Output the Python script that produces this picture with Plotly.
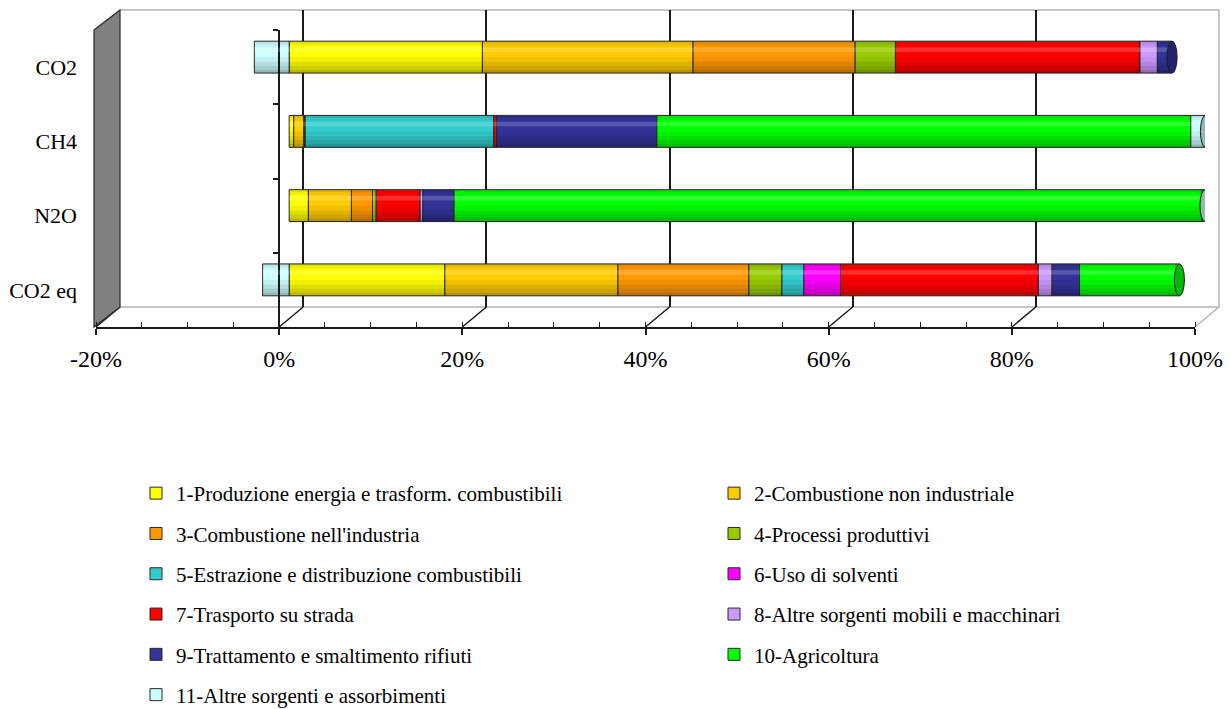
import plotly.graph_objects as go

# ---- data -------------------------------------------------------------
categories = ["CO2", "CH4", "N2O", "CO2 eq"]

sectors = [
    "1-Produzione energia e trasform. combustibili",
    "2-Combustione non industriale",
    "3-Combustione nell'industria",
    "4-Processi produttivi",
    "5-Estrazione e distribuzione combustibili",
    "6-Uso di solventi",
    "7-Trasporto su strada",
    "8-Altre sorgenti mobili e macchinari",
    "9-Trattamento e smaltimento rifiuti",
    "10-Agricoltura",
    "11-Altre sorgenti e assorbimenti",
]

# share (%) of each sector, in the order CO2, CH4, N2O, CO2 eq
s01 = [21.1, 0.5, 2.1, 17.0]
s02 = [23.0, 1.1, 4.7, 18.9]
s03 = [17.7, 0.1, 2.3, 14.3]
s04 = [4.4, 0.05, 0.4, 3.6]
s05 = [None, 20.6, None, 2.4]
s06 = [None, None, None, 4.0]
s07 = [26.7, 0.3, 4.8, 21.6]
s08 = [1.9, None, 0.3, 1.5]
s09 = [1.6, 17.5, 3.4, 3.0]
s10 = [None, 58.3, 81.7, 10.9]
s11 = [-3.8, 1.6, 0.3, -2.9]
shares = [s01, s02, s03, s04, s05, s06, s07, s08, s09, s10, s11]

colors = ["#FFFF00", "#FFCC00", "#FF9900", "#99CC00", "#33CCCC", "#FF00FF",
          "#FF0000", "#CC99FF", "#333399", "#00FF00", "#CCFFFF"]

tick_vals = [-20, 0, 20, 40, 60, 80, 100]
tick_text = [f"{v}%" for v in tick_vals]

# ---- geometry of the pseudo-3D box (pixels of a 1230x709 page) ----------
W, H = 1230, 709
FRONT_L, FRONT_R, FRONT_TOP, FRONT_BOT = 96, 1195, 30, 327   # front plane
DX, DY = 24, 20                                               # depth offset
MID_DX, MID_DY = 10, 10                                       # bars plane
BAR_W = 0.43


def px(x):
    return x / W


def py(y):
    return 1 - y / H


def shade(hex_color, k):
    r, g, b = (int(hex_color[i:i + 2], 16) for i in (1, 3, 5))
    return f"rgb({int(r * k)},{int(g * k)},{int(b * k)})"


FONT = "Liberation Serif"
fig = go.Figure()

# back wall (gridlines only) -> subplot x/y, drawn first
fig.add_trace(go.Scatter(x=[0], y=[0], mode="markers", opacity=0,
                         showlegend=False, hoverinfo="skip",
                         xaxis="x", yaxis="y"))

# the stacked cylinders -> subplot x2/y2
for idx, (name, vals, col) in enumerate(zip(sectors, shares, colors)):
    fig.add_trace(go.Bar(
        y=categories, x=vals, name=name, orientation="h",
        marker=dict(color=col, line=dict(color="#2a2a2a", width=1)),
        width=BAR_W, xaxis="x2", yaxis="y2",
        legend="legend" if idx % 2 == 0 else "legend2",
        legendgroup=name,
        hovertemplate="%{y}: %{x}%<extra>" + name + "</extra>",
    ))

# front axes (labels, ticks) -> subplot x3/y3
fig.add_trace(go.Scatter(x=[0] * len(categories), y=categories, mode="markers",
                         opacity=0, showlegend=False, hoverinfo="skip",
                         xaxis="x3", yaxis="y3"))

# cylinder shading: translucent bands along the full length of each bar
n_cat = len(categories)
neg_total = [sum(v[i] for v in shares if v[i] is not None and v[i] < 0)
             for i in range(n_cat)]
pos_total = [sum(v[i] for v in shares if v[i] is not None and v[i] > 0)
             for i in range(n_cat)]
span_len = [p - n for p, n in zip(pos_total, neg_total)]
half = BAR_W / 2
for frac, alpha in [(0.50, 0.06), (0.35, 0.07), (0.22, 0.08), (0.10, 0.10)]:
    w = BAR_W * frac
    fig.add_trace(go.Bar(
        y=categories, x=span_len, base=neg_total, orientation="h",
        width=w, offset=half - w, marker=dict(color=f"rgba(0,0,0,{alpha})",
                                               line=dict(width=0)),
        showlegend=False, hoverinfo="skip", xaxis="x4", yaxis="y4"))
for frac, alpha in [(0.16, 0.05), (0.07, 0.07)]:
    w = BAR_W * frac
    fig.add_trace(go.Bar(
        y=categories, x=span_len, base=neg_total, orientation="h",
        width=w, offset=-half, marker=dict(color=f"rgba(0,0,0,{alpha})",
                                           line=dict(width=0)),
        showlegend=False, hoverinfo="skip", xaxis="x4", yaxis="y4"))
fig.add_trace(go.Bar(
    y=categories, x=span_len, base=neg_total, orientation="h",
    width=BAR_W * 0.14, offset=-half + BAR_W * 0.2,
    marker=dict(color="rgba(255,255,255,0.18)", line=dict(width=0)),
    showlegend=False, hoverinfo="skip", xaxis="x4", yaxis="y4"))

# ---- frame shapes -------------------------------------------------------
shapes = []
BACK_L, BACK_R = FRONT_L + DX, FRONT_R + DX
BACK_TOP, BACK_BOT = FRONT_TOP - DY, FRONT_BOT - DY
shapes.append(dict(type="path", xref="paper", yref="paper",
                   path=f"M {px(BACK_L)} {py(BACK_TOP)} L {px(BACK_R)} {py(BACK_TOP)} "
                        f"L {px(BACK_R)} {py(BACK_BOT)} L {px(BACK_L)} {py(BACK_BOT)}",
                   line=dict(color="#B4B4B4", width=1.5), layer="below"))
span = FRONT_R - FRONT_L
for v in tick_vals:
    xf = FRONT_L + (v + 20) / 120 * span
    col = "#B4B4B4" if v == 100 else "#1a1a1a"
    shapes.append(dict(type="line", xref="paper", yref="paper",
                       x0=px(xf), y0=py(FRONT_BOT), x1=px(xf + DX), y1=py(BACK_BOT),
                       line=dict(color=col, width=1.5), layer="below"))
shapes.append(dict(type="path", xref="paper", yref="paper",
                   path=f"M {px(FRONT_L - 2)} {py(FRONT_TOP)} L {px(BACK_L)} {py(BACK_TOP)} "
                        f"L {px(BACK_L)} {py(BACK_BOT)} L {px(FRONT_L - 2)} {py(FRONT_BOT)} Z",
                   fillcolor="#808080", line=dict(color="#2a2a2a", width=1.2),
                   layer="below"))

# elliptical end caps of the cylinders (right-hand ends)
for i in range(n_cat):
    last = max(k for k, v in enumerate(shares) if v[i] is not None and v[i] > 0)
    shapes.append(dict(type="circle", xref="x2", yref="y2",
                       x0=pos_total[i] - 0.55, x1=pos_total[i] + 0.55,
                       y0=i - half, y1=i + half,
                       fillcolor=shade(colors[last], 0.72),
                       line=dict(color="#1a1a1a", width=1), layer="above"))

axis_common = dict(zeroline=False, showgrid=False, showticklabels=False,
                   ticks="", showline=False, fixedrange=True, automargin=False)

bar_x = dict(axis_common, range=[-20, 100],
             domain=[px(FRONT_L + MID_DX), px(FRONT_R + MID_DX)])
bar_y = dict(axis_common, type="category", categoryarray=categories,
             range=[3.5, -0.5],
             domain=[py(FRONT_BOT - MID_DY), py(FRONT_TOP - MID_DY)])

legend_common = dict(xanchor="left", yanchor="top", orientation="v",
                     tracegroupgap=10, bgcolor="rgba(0,0,0,0)",
                     font=dict(family=FONT, size=21), traceorder="grouped",
                     itemclick=False, itemdoubleclick=False)

fig.update_layout(
    width=W, height=H,
    margin=dict(l=0, r=0, t=0, b=0, autoexpand=False),
    paper_bgcolor="white", plot_bgcolor="rgba(0,0,0,0)",
    barmode="relative",
    shapes=shapes,
    font=dict(family=FONT, color="black"),
    xaxis=dict(axis_common, domain=[px(BACK_L), px(BACK_R)], range=[-20, 100],
               anchor="y", showgrid=True, tickvals=[0, 20, 40, 60, 80],
               gridcolor="#1a1a1a", gridwidth=1.5),
    yaxis=dict(axis_common, domain=[py(BACK_BOT), py(BACK_TOP)], range=[0, 1],
               anchor="x"),
    xaxis2=dict(bar_x, anchor="y2"),
    yaxis2=dict(bar_y, anchor="x2"),
    xaxis4=dict(bar_x, anchor="y4"),
    yaxis4=dict(bar_y, anchor="x4"),
    xaxis3=dict(zeroline=False, showgrid=False, fixedrange=True, automargin=False,
                range=[-20, 100], anchor="y3", domain=[px(FRONT_L), px(FRONT_R)],
                tickvals=tick_vals, ticktext=tick_text,
                ticks="outside", ticklen=6, tickcolor="#1a1a1a", tickwidth=1.5,
                showline=True, linecolor="#1a1a1a", linewidth=1.5,
                minor=dict(ticks="inside", dtick=5, ticklen=5, tickcolor="#1a1a1a",
                           tickwidth=1.2),
                tickfont=dict(family=FONT, size=24), ticklabelstandoff=3),
    yaxis3=dict(zeroline=False, showgrid=False, fixedrange=True, automargin=False,
                type="category", categoryarray=categories, range=[3.5, -0.5],
                domain=[py(FRONT_BOT), py(FRONT_TOP)],
                anchor="free", position=px(FRONT_L + 20 / 120 * span),
                tickson="boundaries", ticks="outside", ticklen=5,
                tickcolor="#1a1a1a", tickwidth=1.5,
                showline=True, linecolor="#1a1a1a", linewidth=1.5,
                tickfont=dict(family=FONT, size=22), ticklabelstandoff=197),
    legend=dict(legend_common, x=px(136), y=py(473)),
    legend2=dict(legend_common, x=px(714), y=py(473)),
)

fig.write_html("out.html")
